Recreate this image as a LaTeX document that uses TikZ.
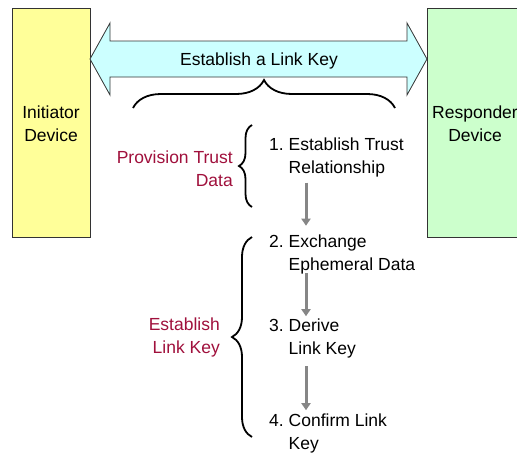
\documentclass[tikz,border=0pt]{standalone}
\usepackage{fontspec}
\setmainfont{Liberation Sans}
\usetikzlibrary{arrows.meta,decorations.pathreplacing}
\definecolor{devyellow}{HTML}{FFFF99}
\definecolor{devgreen}{HTML}{CCFFCC}
\definecolor{linkcyan}{HTML}{CCFFFF}
\definecolor{phasered}{HTML}{A0103C}
\definecolor{edgegray}{HTML}{333333}
\begin{document}
\begin{tikzpicture}[x=1pt,y=-1pt,
  txt/.style={font=\fontsize{17.5}{23}\selectfont, inner sep=0pt},
  device/.style={draw=edgegray, line width=0.8pt},
  steptext/.style={txt, anchor=north west, align=left},
  phase/.style={txt, text=phasered, anchor=east, align=right},
  flow/.style={draw=gray!95, line width=3pt, -{Triangle[width=9pt,length=7pt]}},
  bigbrace/.style={draw=black, line width=1.8pt, decorate, decoration={brace, amplitude=#1}}
]
\clip (0,0) rectangle (517,453);
\fill[white] (0,0) rectangle (517,453);
% devices
\draw[device, fill=devyellow] (12,8) rectangle (90,237);
\draw[device, fill=devgreen] (427,8) rectangle (540,237);
\node[txt, align=center] (init) at (51,124) {Initiator\\Device};
\node[txt, align=center] (resp) at (475,124) {Responder\\Device};
% double arrow
\draw[fill=linkcyan, draw=edgegray, line width=0.8pt]
  (90,59) -- (110,23) -- (110,41) -- (407,41) -- (407,23) -- (427,59)
  -- (407,95) -- (407,77) -- (110,77) -- (110,95) -- cycle;
\node[txt, anchor=base] (link) at (259,65.6) {Establish a Link Key};
% top brace
\coordinate (tbl) at (133,108);
\coordinate (tbr) at (395,108);
\draw[bigbrace=28pt] (tbl) -- (tbr);
% steps
\newcommand{\stepnum}[1]{\makebox[19.5pt][l]{#1}}
\node[steptext] (s1) at (269,138) {\stepnum{1.}Establish Trust\\\hspace*{19.5pt}Relationship};
\node[steptext] (s2) at (269,234.7) {\stepnum{2.}Exchange\\\hspace*{19.5pt}Ephemeral Data};
\node[steptext] (s3) at (269,318.7) {\stepnum{3.}Derive\\\hspace*{19.5pt}Link Key};
\node[steptext] (s4) at (269,413.7) {\stepnum{4.}Confirm Link\\\hspace*{19.5pt}Key};
\coordinate (ax) at (306,0);
\draw[flow, shorten <=5pt, shorten >=9pt] (s1.south -| ax) -- (s2.north -| ax);
\draw[flow, shorten <=-1pt, shorten >=2.5pt] (s2.south -| ax) -- (s3.north -| ax);
\draw[flow, shorten <=8pt, shorten >=3.5pt] (s3.south -| ax) -- (s4.north -| ax);
% braces for phases
\coordinate (b1b) at (252,207);
\coordinate (b1t) at (252,125);
\draw[bigbrace=13pt] (b1b) -- (b1t);
\coordinate (b2b) at (252,437);
\coordinate (b2t) at (252,237);
\draw[bigbrace=20pt] (b2b) -- (b2t);
\node[phase] (p1) at (233,168.4) {Provision Trust\\Data};
\node[phase] (p2) at (220,337) {Establish\\Link Key};
\end{tikzpicture}
\end{document}
